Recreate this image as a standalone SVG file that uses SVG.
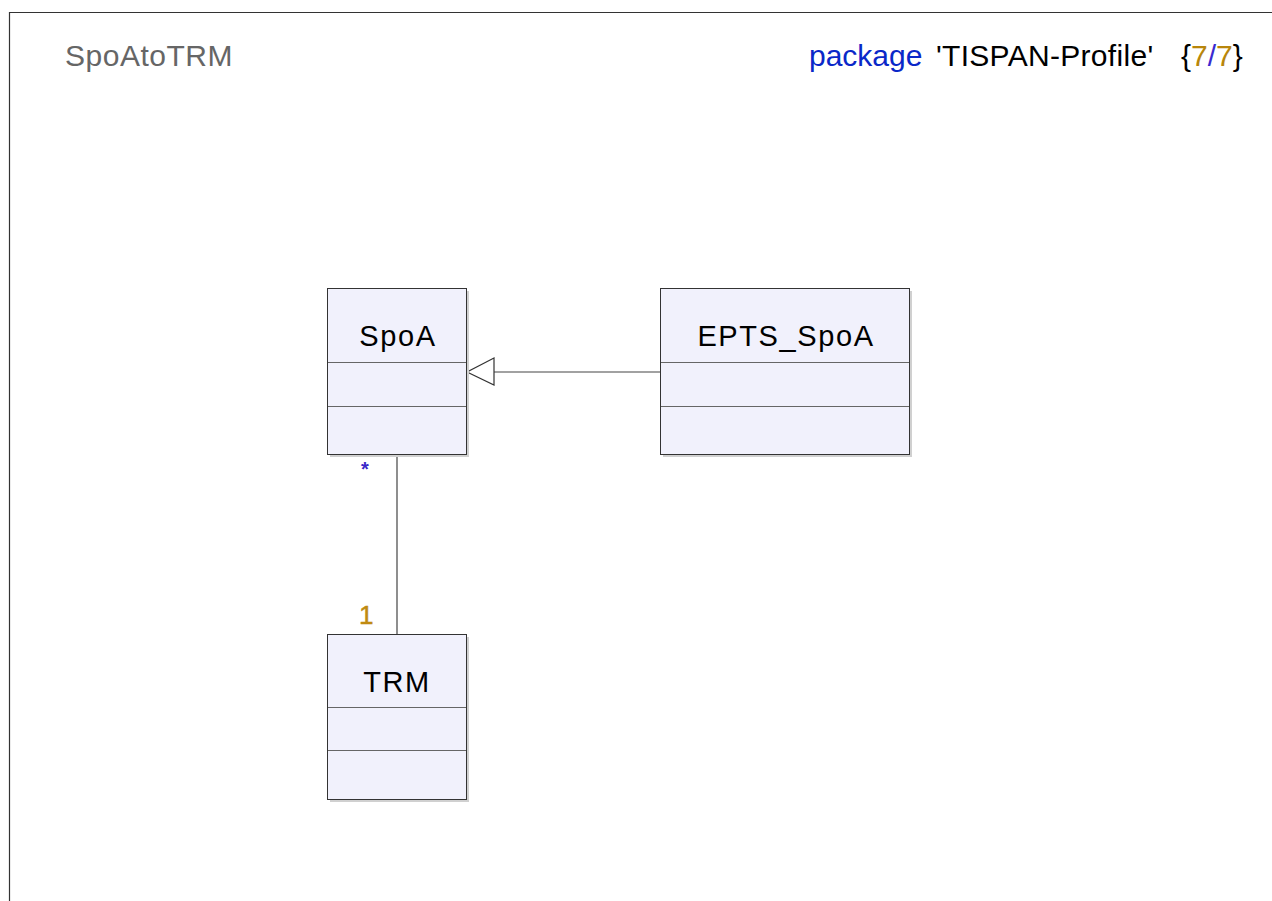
<svg xmlns="http://www.w3.org/2000/svg" width="1272" height="901" viewBox="0 0 1272 901">
<style>
  .t { font-family: "Liberation Sans", Arial, sans-serif; }
  .box { fill: #f1f1fc; stroke: #333; stroke-width: 1; }
  .shadow { fill: #d0d0d0; }
  .div { stroke: #666; stroke-width: 1.2; }
  .name { font-size: 29px; fill: #000; text-anchor: middle; letter-spacing: 1.6px; }
  .conn { stroke: #444; stroke-width: 1.2; fill: none; }
</style>
<rect x="0" y="0" width="1272" height="901" fill="#fff"/>
<path d="M9.5 901 V12.5 H1272" fill="none" stroke="#333" stroke-width="1.2"/>
<text class="t" x="65" y="66" font-size="30" fill="#666" letter-spacing="0.5">SpoAtoTRM</text>
<g id="header" class="t" font-size="30">
  <text x="809" y="66" fill="#0a28c8">package</text>
  <text x="936" y="66" fill="#000" letter-spacing="0.3">'TISPAN-Profile'</text>
  <text x="1181" y="66" fill="#000">{<tspan fill="#b8860b">7</tspan><tspan fill="#3a2ad0">/</tspan><tspan fill="#b8860b">7</tspan>}</text>
</g>
<g id="connectors">
  <line class="conn" x1="660" y1="372" x2="494" y2="372"/>
  <path d="M494 358 L467 372 L494 385 Z" fill="#fff" stroke="#333" stroke-width="1.2"/>
  <line class="conn" x1="397" y1="455" x2="397" y2="634"/>
  <text class="t" x="361" y="476" font-size="20" font-weight="bold" fill="#3a28c8">*</text>
  <text class="t" x="359" y="624" font-size="26" fill="#c08a10" stroke="#c08a10" stroke-width="0.5">1</text>
</g>
<g id="SpoA">
  <rect class="shadow" x="330" y="291" width="139" height="166"/>
  <rect class="box" x="327.5" y="288.5" width="139" height="166"/>
  <line class="div" x1="328" y1="362.5" x2="466" y2="362.5"/>
  <line class="div" x1="328" y1="406.5" x2="466" y2="406.5"/>
  <text class="t name" x="398" y="346">SpoA</text>
</g>
<g id="EPTS_SpoA">
  <rect class="shadow" x="663" y="291" width="249" height="166"/>
  <rect class="box" x="660.5" y="288.5" width="249" height="166"/>
  <line class="div" x1="661" y1="362.5" x2="909" y2="362.5"/>
  <line class="div" x1="661" y1="406.5" x2="909" y2="406.5"/>
  <text class="t name" x="786" y="346">EPTS_SpoA</text>
</g>
<g id="TRM">
  <rect class="shadow" x="330" y="637" width="139" height="165"/>
  <rect class="box" x="327.5" y="634.5" width="139" height="165"/>
  <line class="div" x1="328" y1="707.5" x2="466" y2="707.5"/>
  <line class="div" x1="328" y1="750.5" x2="466" y2="750.5"/>
  <text class="t name" x="397" y="692">TRM</text>
</g>
</svg>
